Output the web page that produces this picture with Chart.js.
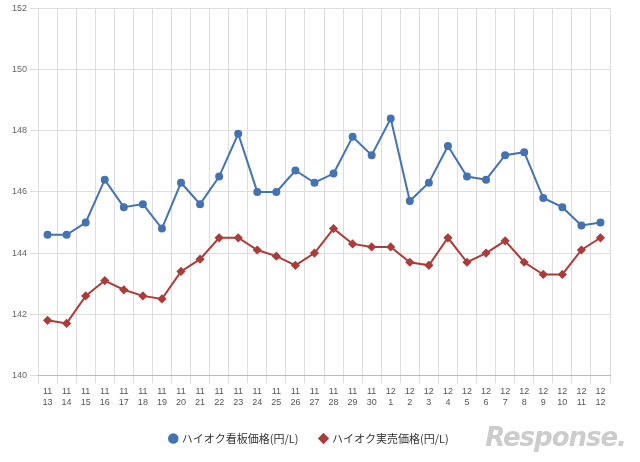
<!DOCTYPE html><html><head><meta charset="utf-8">
<script src="https://cdn.jsdelivr.net/npm/chart.js@4"></script>
<style>body{margin:0;background:#fff}#w{width:640px;height:462px;position:relative}
#logo{position:absolute;right:14px;bottom:10px;font:italic bold 26px "DejaVu Sans";color:#ccc;letter-spacing:-1px}</style>
</head><body><div id="w"><canvas id="c" width="640" height="462"></canvas><div id="logo">Response.</div></div>
<script>
const months=["11","11","11","11","11","11","11","11","11","11","11","11","11","11","11","11","11","11","12","12","12","12","12","12","12","12","12","12","12","12"];
const days=["13","14","15","16","17","18","19","20","21","22","23","24","25","26","27","28","29","30","1","2","3","4","5","6","7","8","9","10","11","12"];
const signPrice=[144.6,144.6,145.0,146.4,145.5,145.6,144.8,146.3,145.6,146.5,147.9,146.0,146.0,146.7,146.3,146.6,147.8,147.2,148.4,145.7,146.3,147.5,146.5,146.4,147.2,147.3,145.8,145.5,144.9,145.0];
const realPrice=[141.8,141.7,142.6,143.1,142.8,142.6,142.5,143.4,143.8,144.5,144.5,144.1,143.9,143.6,144.0,144.8,144.3,144.2,144.2,143.7,143.6,144.5,143.7,144.0,144.4,143.7,143.3,143.3,144.1,144.5];
const labels=months.map((m,i)=>[m,days[i]]);
new Chart(document.getElementById('c'),{type:'line',
data:{labels,datasets:[
{label:'ハイオク看板価格(円/L)',data:signPrice,borderColor:'#4572b0',backgroundColor:'#4572b0',pointStyle:'circle',pointRadius:3,borderWidth:2,tension:0},
{label:'ハイオク実売価格(円/L)',data:realPrice,borderColor:'#aa3d3a',backgroundColor:'#aa3d3a',pointStyle:'rectRot',pointRadius:3.2,borderWidth:2,tension:0}]},
options:{responsive:false,animation:false,
layout:{padding:{left:9,right:30,top:8,bottom:8}},
plugins:{legend:{position:'bottom',labels:{usePointStyle:true,boxWidth:6,boxHeight:6,padding:22,color:'#333',font:{size:11,family:'Noto Sans CJK JP'}}}},
scales:{x:{offset:true,grid:{color:'#ddd',offset:true},border:{color:'#bbb'},ticks:{color:'#555',font:{size:9},maxRotation:0,autoSkip:false}},
y:{min:140,max:152,ticks:{stepSize:2,color:'#666',font:{size:9}},grid:{color:'#ddd'},border:{display:false}}}}});
</script></body></html>
